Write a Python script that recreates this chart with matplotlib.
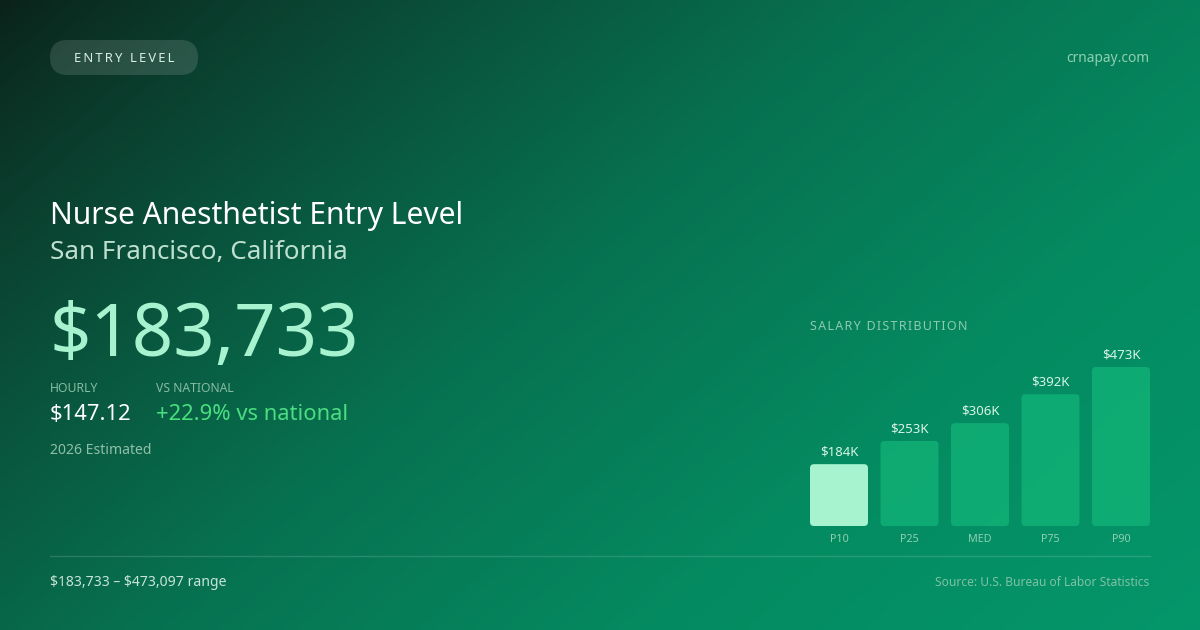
import numpy as np
import matplotlib
matplotlib.use("Agg")
import matplotlib.pyplot as plt
from matplotlib.patches import FancyBboxPatch
from matplotlib.colors import LinearSegmentedColormap

# ---- data ----
percentiles = ["P10", "P25", "MED", "P75", "P90"]
salaries_k = [184, 253, 306, 392, 473]
value_labels = ["$184K", "$253K", "$306K", "$392K", "$473K"]
title = "Nurse Anesthetist Entry Level"
location = "San Francisco, California"
headline = "$183,733"
hourly = "$147.12"
vs_national = "+22.9% vs national"
range_text = "$183,733 \u2013 $473,097 range"
source_text = "Source: U.S. Bureau of Labor Statistics"
badge = "ENTRY LEVEL"
site = "crnapay.com"
dist_title = "SALARY DISTRIBUTION"

plt.rcParams['font.family'] = ['Noto Sans', 'DejaVu Sans']
plt.rcParams['text.parse_math'] = False

W, H = 1200, 630
fig = plt.figure(figsize=(12, 6.3), dpi=100)

# background gradient
bg = fig.add_axes([0, 0, 1, 1])
bg.set_xlim(0, W)
bg.set_ylim(H, 0)
bg.axis('off')
xx, yy = np.meshgrid(np.linspace(0, 1, 300), np.linspace(0, 1, 160))
t = np.clip(0.62 * xx + 0.38 * yy, 0, 1) ** 0.85
cmap = LinearSegmentedColormap.from_list(
    "bg", ["#0a221a", "#0a4a36", "#07704f", "#058a60", "#04966a"])
bg.imshow(t, cmap=cmap, extent=[0, W, H, 0], aspect='auto', zorder=0,
          interpolation='bilinear')


def px(size_px):
    return size_px * 72 / 100


def spaced(s, gap):
    return gap.join(s)


# badge pill
pill = FancyBboxPatch((50, 40), 148, 35,
                      boxstyle="round,pad=0,rounding_size=17.5",
                      fc=(1, 1, 1, 0.13), ec='none', zorder=2)
bg.add_patch(pill)
bg.text(124, 59, spaced(badge, "\u2009"), color="#d8efe4", fontsize=px(13),
        ha='center', va='center', zorder=3)
bg.text(1149, 59, site, color="#8fd0b2", fontsize=px(13.8), ha='right',
        va='center', zorder=3)

# titles
bg.text(50, 216, title, color="white", fontsize=px(30), ha='left',
        va='center', zorder=3)
bg.text(50, 253, location, color="#bfe0d0", fontsize=px(26), ha='left',
        va='center', zorder=3)
bg.text(49, 337, headline, color="#a7f3d0", fontsize=px(72.5), ha='left',
        va='center', zorder=3)

bg.text(50, 389, "HOURLY", color="#86bca4", fontsize=px(12.2), ha='left',
        va='center', zorder=3)
bg.text(156, 389, "VS NATIONAL", color="#86bca4", fontsize=px(12.2),
        ha='left', va='center', zorder=3)
bg.text(50, 415, hourly, color="white", fontsize=px(22), ha='left',
        va='center', zorder=3)
bg.text(156, 415, vs_national, color="#4ade80", fontsize=px(22), ha='left',
        va='center', zorder=3)
bg.text(50, 451, "2026 Estimated", color="#8fbfa8", fontsize=px(14),
        ha='left', va='center', zorder=3)

# divider & footer
bg.plot([50, 1150], [556, 556], color=(1, 1, 1, 0.14), lw=1, zorder=2)
bg.text(50, 583, range_text, color="#c8e4d8", fontsize=px(14), ha='left',
        va='center', zorder=3)
bg.text(1149, 583, source_text, color="#7fc2a4", fontsize=px(12),
        ha='right', va='center', zorder=3)

bg.text(810, 327, spaced(dist_title, "\u200a"), color="#8ccbb0",
        fontsize=px(12.5), ha='left', va='center', zorder=3)

# bar chart
left, right, bottom_px, top_px = 810, 1150, 526, 346
ax = fig.add_axes([left / W, (H - bottom_px) / H, (right - left) / W,
                   (bottom_px - top_px) / H])
ax.set_facecolor('none')
ax.patch.set_alpha(0)
for s in ax.spines.values():
    s.set_visible(False)
ymax = 473.097 * (bottom_px - top_px) / 159
step_px = 70.5
half = 29 / step_px
ax.set_xlim(-half, len(percentiles) - 1 + half)
ax.set_ylim(0, ymax)
ax.set_xticks(range(len(percentiles)))
ax.set_xticklabels(percentiles)
ax.tick_params(axis='x', length=0, pad=6, labelsize=px(10.8),
               labelcolor="#8fd0b2")
ax.set_yticks([])

bw = 58 / step_px
xu_per_px = 1 / step_px
yu_per_px = ymax / (bottom_px - top_px)
aspect = yu_per_px / xu_per_px
r = 4 * xu_per_px
for i, (lab, v, vl) in enumerate(zip(percentiles, salaries_k, value_labels)):
    fc = "#a7f3d0" if i == 0 else (0.07, 0.70, 0.47, 0.78)
    p = FancyBboxPatch((i - bw / 2, 0), bw, v,
                       boxstyle=f"round,pad=0,rounding_size={r}",
                       mutation_aspect=aspect, fc=fc, ec='none')
    ax.add_patch(p)
    ax.text(i, v + 12 * yu_per_px, vl, ha='center', va='center',
            color="#d6f5e6", fontsize=px(13.2))

fig.savefig("out.png", dpi=100)
